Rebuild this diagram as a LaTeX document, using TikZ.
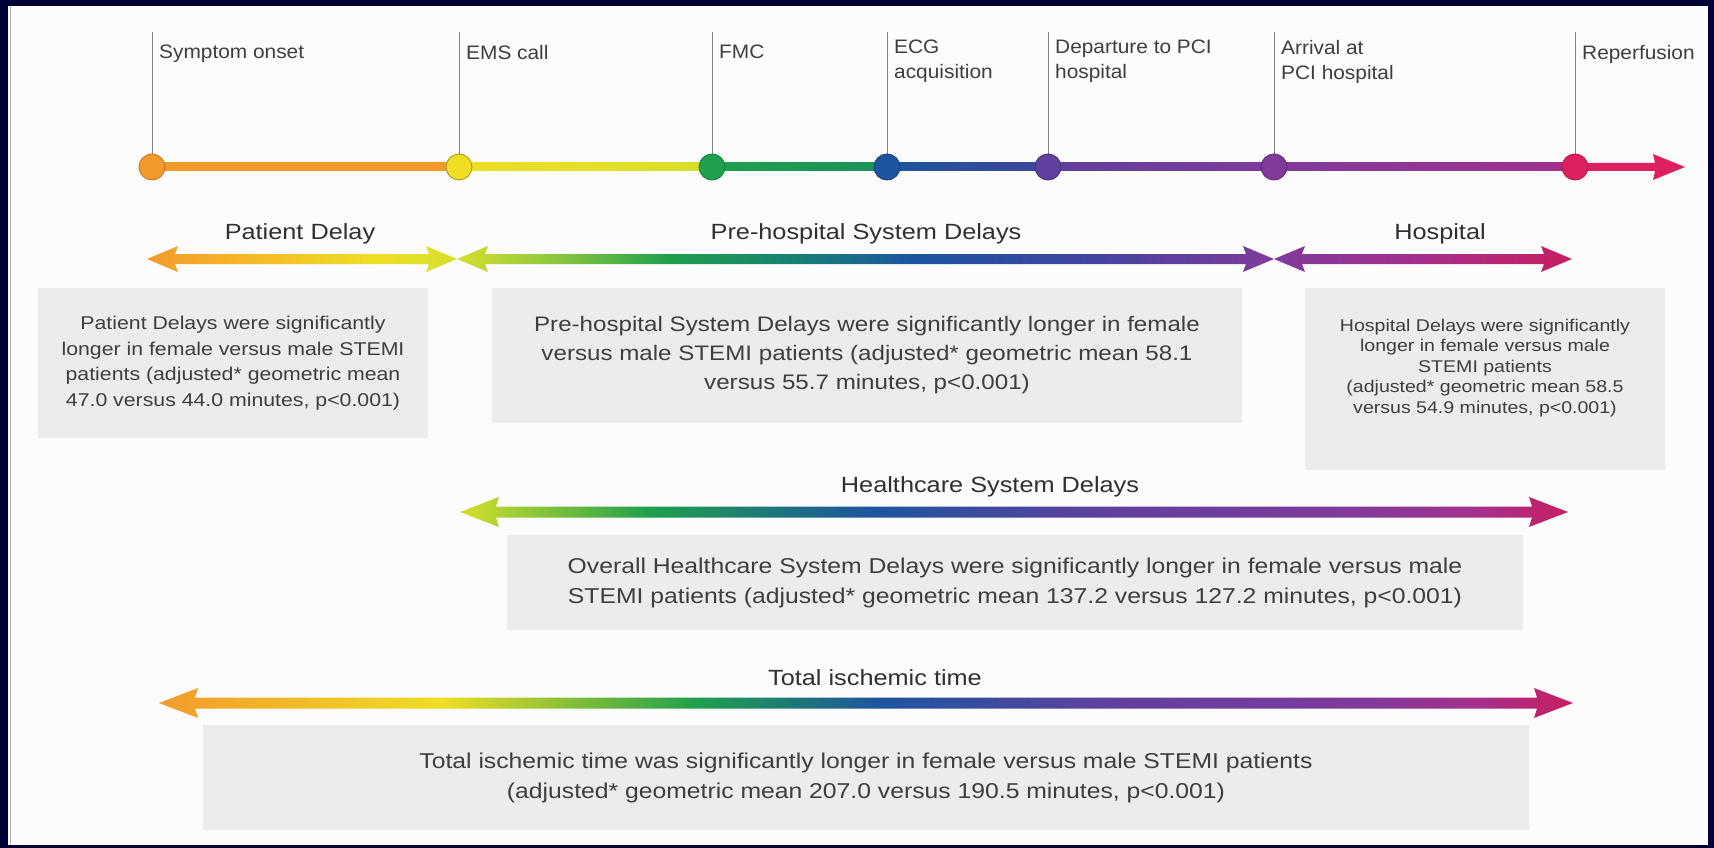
\documentclass[tikz,border=0pt]{standalone}
\usepackage{fontspec}
\setmainfont{Liberation Sans}[FakeStretch=1.15]
\newfontfamily\labfont{Liberation Sans}[FakeStretch=1.07]
\usetikzlibrary{calc}
\definecolor{navy}{RGB}{0,0,55}
\definecolor{bg}{RGB}{252,252,252}
\definecolor{boxg}{RGB}{236,236,236}
\definecolor{txt}{RGB}{62,62,62}
\definecolor{ttlc}{RGB}{48,48,48}
\definecolor{vg}{RGB}{130,130,130}
\definecolor{cOr}{RGB}{243,154,43}
\definecolor{cOr2}{RGB}{245,181,42}
\definecolor{cYe}{RGB}{239,222,36}
\definecolor{cYg}{RGB}{214,223,44}
\definecolor{cLg}{RGB}{140,198,63}
\definecolor{cGr}{RGB}{30,160,76}
\definecolor{cTe}{RGB}{26,127,119}
\definecolor{cBl}{RGB}{29,85,160}
\definecolor{cIn}{RGB}{63,70,158}
\definecolor{cPu}{RGB}{95,64,158}
\definecolor{cVi}{RGB}{128,58,156}
\definecolor{cMa}{RGB}{165,48,140}
\definecolor{cCr}{RGB}{200,30,98}
\definecolor{cRe}{RGB}{222,32,96}
\pgfdeclarehorizontalshading{shPat}{100bp}{color(0bp)=(cOr); color(25bp)=(cOr); color(40bp)=(cOr2); color(62bp)=(cYe); color(75bp)=(cYg); color(100bp)=(cYg)}
\pgfdeclarehorizontalshading{shPre}{100bp}{color(0bp)=(cYg); color(25bp)=(cYg); color(31bp)=(cLg); color(38bp)=(cGr); color(46bp)=(cTe); color(53bp)=(cBl); color(63bp)=(cIn); color(75bp)=(cVi); color(100bp)=(cVi)}
\pgfdeclarehorizontalshading{shHos}{100bp}{color(0bp)=(cVi); color(25bp)=(cVi); color(50bp)=(cMa); color(75bp)=(cCr); color(100bp)=(cCr)}
\pgfdeclarehorizontalshading{shHc}{100bp}{color(0bp)=(cYg); color(25bp)=(cYg); color(33.5bp)=(cGr); color(43.5bp)=(cBl); color(54bp)=(cPu); color(65bp)=(cVi); color(71bp)=(cMa); color(75bp)=(cCr); color(100bp)=(cCr)}
\pgfdeclarehorizontalshading{shTot}{100bp}{color(0bp)=(cOr); color(25bp)=(cOr); color(35bp)=(cYe); color(44bp)=(cGr); color(50.5bp)=(cBl); color(58.5bp)=(cPu); color(67.5bp)=(cVi); color(71.5bp)=(cMa); color(75bp)=(cCr); color(100bp)=(cCr)}
% double-headed shaded arrow: from, to, shading, shaft half, head length, head half
\newcommand\garrow[6]{%
  \shade[shading=#3]
    (#1) -- ($(#1)+(#5+3,-#6)$) -- ($(#1)+(#5,-#4)$) -- ($(#2)+(-#5,-#4)$)
    -- ($(#2)+(-#5-3,-#6)$) -- (#2) -- ($(#2)+(-#5-3,#6)$) -- ($(#2)+(-#5,#4)$)
    -- ($(#1)+(#5,#4)$) -- ($(#1)+(#5+3,#6)$) -- cycle;}
% timeline segment: from, to, left colour, right colour
\newcommand\tseg[4]{\shade[left color=#3,right color=#4] ($(#1)+(0,-4)$) rectangle ($(#2)+(0,4)$);}
\begin{document}
\begin{tikzpicture}[x=1pt,y=-1pt,
  dot/.style={circle,minimum size=26pt,inner sep=0pt,line width=0.9pt},
  vline/.style={draw=vg,line width=1pt},
  tlab/.style={font=\labfont\fontsize{19.5}{25}\selectfont,text=txt,anchor=north west,inner sep=0pt,align=left},
  ttl/.style={font=\fontsize{22}{26}\selectfont,text=ttlc,anchor=base,inner sep=0pt},
  gbox/.style={fill=boxg,inner sep=0pt,text=txt,align=center},
  btxt/.style={inner sep=0pt,text=txt,align=center}]
\useasboundingbox (0,0) rectangle (1714,848);
\fill[navy] (0,0) rectangle (1714,848);
\fill[bg] (8,6) rectangle (1708,845);
\draw[gray!60,line width=1pt] (10.5,6) -- (10.5,845);

% timeline coordinates
\coordinate (t1) at (152,167);
\coordinate (t2) at (459,167);
\coordinate (t3) at (712,167);
\coordinate (t4) at (887,167);
\coordinate (t5) at (1048,167);
\coordinate (t6) at (1274,167);
\coordinate (t7) at (1575,167);
\coordinate (tend) at (1685,167);
\foreach \i/\x in {1/152,2/459,3/712,4/887,5/1048,6/1274,7/1575}
  \coordinate (v\i) at (\x,32);

% segments
\tseg{t1}{t2}{cOr}{cOr}
\tseg{t2}{t3}{cYe}{cYg}
\tseg{t3}{t4}{cGr}{cGr!80!cBl}
\tseg{t4}{t5}{cBl}{cIn}
\tseg{t5}{t6}{cPu}{cVi}
\tseg{t6}{t7}{cVi}{cMa}
\fill[cRe] ($(t7)+(0,-4)$) -- ($(tend)+(-30,-4)$) -- ($(tend)+(-32,-13)$) -- (tend)
  -- ($(tend)+(-32,13)$) -- ($(tend)+(-30,4)$) -- ($(t7)+(0,4)$) -- cycle;

% vertical lines
\foreach \i in {1,...,7} \draw[vline] (v\i) -- (t\i);

% dots
\node[dot,fill=cOr,draw=cOr!80!black] (d1) at (t1) {};
\node[dot,fill=cYe,draw=cYe!70!black] (d2) at (t2) {};
\node[dot,fill=cGr,draw=cGr!80!black] (d3) at (t3) {};
\node[dot,fill=cBl,draw=cBl!75!black] (d4) at (t4) {};
\node[dot,fill=cPu,draw=cPu!75!black] (d5) at (t5) {};
\node[dot,fill=cVi,draw=cVi!75!black] (d6) at (t6) {};
\node[dot,fill=cRe,draw=cRe!80!black] (d7) at (t7) {};

% timeline labels
\node[tlab] (l1) at (159,45) {Symptom onset};
\node[tlab] (l2) at (466,45) {EMS call};
\node[tlab] (l3) at (719,45) {FMC};
\node[tlab] (l4) at (894,40) {ECG\\acquisition};
\node[tlab] (l5) at (1055,40) {Departure to PCI\\hospital};
\node[tlab] (l6) at (1281,40) {Arrival at\\PCI hospital};
\node[tlab] (l7) at (1582,45) {Reperfusion};

% first row of delay arrows
\coordinate (pa) at (147,259);
\coordinate (pb) at (457,259);
\coordinate (pc) at (1274,259);
\coordinate (pd) at (1572,259);
\garrow{pa}{pb}{shPat}{5}{28}{13}
\garrow{pb}{pc}{shPre}{5}{28}{13}
\garrow{pc}{pd}{shHos}{5}{28}{13}
\node[ttl] (tt1) at (300,239) {Patient Delay};
\node[ttl] (tt2) at (866,239) {Pre-hospital System Delays};
\node[ttl] (tt3) at (1440,239) {Hospital};

% first row of boxes
\node[gbox,minimum width=390pt,minimum height=150pt,font=\fontsize{18.5}{25.5}\selectfont] (b1) at (233,363)
  {Patient Delays were significantly\\longer in female versus male STEMI\\patients (adjusted* geometric mean\\47.0 versus 44.0 minutes, p<0.001)};
\node[gbox,minimum width=750pt,minimum height=135pt,font=\fontsize{21}{29}\selectfont] (b2) at (867,355.5)
  {Pre-hospital System Delays were significantly longer in female\\versus male STEMI patients (adjusted* geometric mean 58.1\\versus 55.7 minutes, p<0.001)};
\node[gbox,minimum width=360pt,minimum height=182pt] (b3) at (1485,379) {};
\node[btxt,font=\fontsize{17}{20.5}\selectfont] (b3t) at (1485,368)
  {Hospital Delays were significantly\\longer in female versus male\\STEMI patients\\(adjusted* geometric mean 58.5\\versus 54.9 minutes, p<0.001)};

% healthcare system
\coordinate (ha) at (460,512);
\coordinate (hb) at (1568,512);
\garrow{ha}{hb}{shHc}{5.5}{36}{15}
\node[ttl] (tt4) at (990,492) {Healthcare System Delays};
\node[gbox,minimum width=1016pt,minimum height=95pt,font=\fontsize{21.5}{30}\selectfont] (b4) at (1015,582.5)
  {Overall Healthcare System Delays were significantly longer in female versus male\\STEMI patients (adjusted* geometric mean 137.2 versus 127.2 minutes, p<0.001)};

% total ischemic time
\coordinate (sa) at (159,703);
\coordinate (sb) at (1573,703);
\garrow{sa}{sb}{shTot}{5.5}{36}{15}
\node[ttl] (tt5) at (875,685) {Total ischemic time};
\node[gbox,minimum width=1326pt,minimum height=105pt,font=\fontsize{21.5}{30}\selectfont] (b5) at (866,777.5)
  {Total ischemic time was significantly longer in female versus male STEMI patients\\(adjusted* geometric mean 207.0 versus 190.5 minutes, p<0.001)};
\end{tikzpicture}
\end{document}
